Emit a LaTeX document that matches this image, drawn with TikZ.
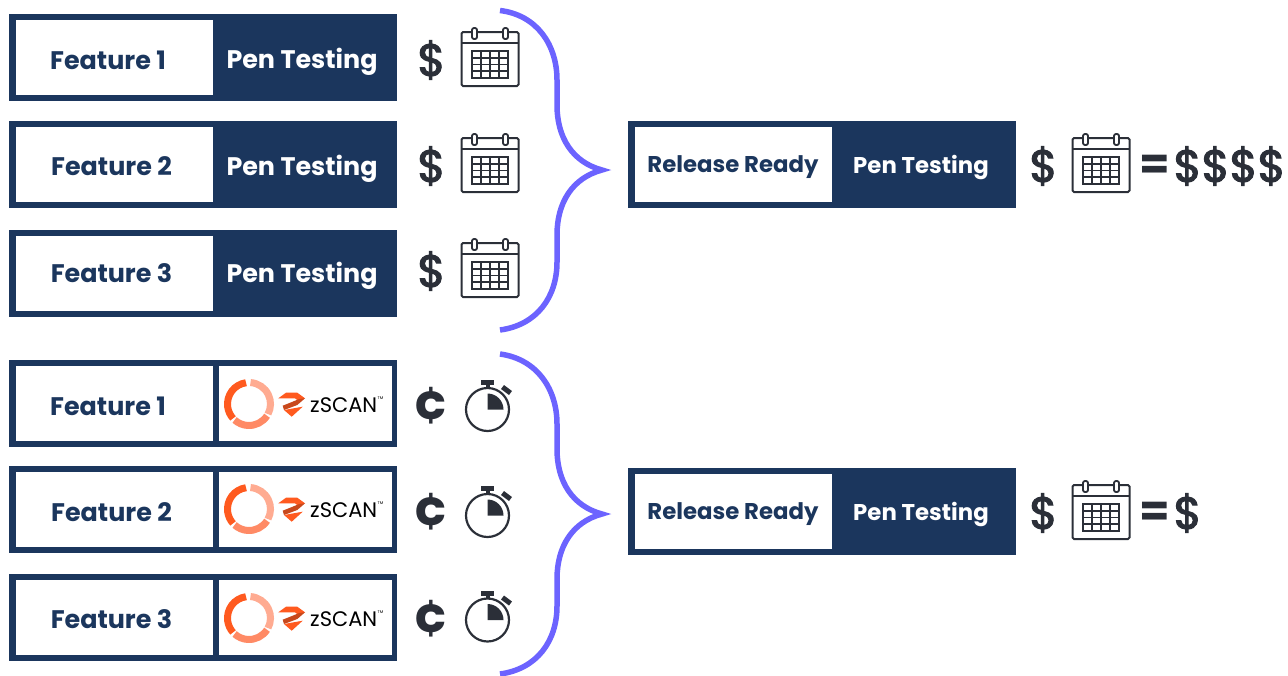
\documentclass[tikz,border=0pt]{standalone}
\usepackage{fontspec}
\setmainfont{Poppins}
\newfontfamily\moneyfont[FakeBold=2.4]{Poppins}
\definecolor{navy}{HTML}{1B365D}
\definecolor{ink}{HTML}{2B2F38}
\definecolor{brace}{HTML}{6C63FF}
\definecolor{orA}{HTML}{FF5A1F}
\definecolor{orB}{HTML}{FF8A65}
\definecolor{orC}{HTML}{FFAB91}
\definecolor{orD}{HTML}{C8481C}
\tikzset{
  x=1pt,y=-1pt,
  navybox/.style={fill=navy,draw=none,minimum width=388pt,minimum height=87pt,inner sep=0,anchor=north west},
  whitebox/.style={fill=white,draw=none,inner sep=0,anchor=north west},
  ftext/.style={text=navy,font=\fontsize{25.4}{25}\selectfont\bfseries,inner sep=0},
  ptext/.style={text=white,font=\fontsize{25.4}{25}\selectfont\bfseries,inner sep=0,yshift=-2.5pt},
  rtext/.style={text=navy,font=\fontsize{22.8}{23}\selectfont\bfseries,inner sep=0,yshift=-3pt},
  qtext/.style={text=white,font=\fontsize{22.8}{23}\selectfont\bfseries,inner sep=0,yshift=-3pt},
  money/.style={text=ink,font=\moneyfont\fontsize{45}{45}\selectfont,inner sep=0},
  cent/.style={text=ink,font=\fontsize{54}{54}\selectfont\bfseries,inner sep=0},
  equal/.style={text=ink,font=\fontsize{44}{44}\selectfont\bfseries,inner sep=0},
  bracepath/.style={draw=brace,line width=5.5pt,line cap=butt,miter limit=10},
  calendar/.pic={
    \draw[ink,line width=2pt,rounded corners=1.5pt] (-28.5,-27) rectangle (28.5,27);
    \draw[ink,line width=2pt] (-28.5,-16) -- (28.5,-16);
    \fill[white,draw=ink,line width=1.8pt,rounded corners=2pt] (-18,-31) rectangle (-13,-20);
    \fill[white,draw=ink,line width=1.8pt,rounded corners=2pt] (13,-31) rectangle (18,-20);
    \draw[ink,line width=2pt] (-18,-8) rectangle (18,19);
    \foreach \u in {-9,0,9} \draw[ink,line width=1.8pt] (\u,-8) -- (\u,19);
    \foreach \v in {-1.25,5.5,12.25} \draw[ink,line width=1.8pt] (-18,\v) -- (18,\v);
  },
  stopwatch/.pic={
    \draw[ink,line width=2.2pt] (0,0) circle (21.5);
    \fill[ink] (-6.5,-29.5) rectangle (6,-24.5);
    \fill[ink] (-2,-25) rectangle (2,-21);
    \draw[ink,line width=5pt] (15,-22.5) -- (23,-16.5);
    \fill[ink] (0,0) -- (0,-16) arc[start angle=270,end angle=360,radius=16] -- cycle;
  },
  zscan/.pic={
    \draw[orA,line width=7pt] (262:21.5) arc[start angle=262,end angle=138,radius=21.5];
    \draw[orC,line width=7pt] (-86:21.5) arc[start angle=-86,end angle=28,radius=21.5];
    \draw[orB,line width=7pt] (33:21.5) arc[start angle=33,end angle=132,radius=21.5];
    \fill[orA] (29.3,-5.7) -- (37,-11.3) -- (48.3,-11.3) -- (56,-5.7) -- (50.3,-2.3) -- (46,-5.7) -- cycle;
    \fill[orD] (33.7,1.7) -- (50.3,-5) -- (56,-5.7) -- (48.3,1) -- (35,6) -- cycle;
    \fill[orA] (35,6) -- (53.7,2.7) -- (42.7,12.7) -- cycle;
    \node[inner sep=0,anchor=west,text=black,font=\fontsize{21}{21}\selectfont] (zt) at (61,1) {zSCAN};
    \node[inner sep=0,anchor=west,text=black,font=\fontsize{4}{4}\selectfont] (tm) at (128.5,-6) {TM};
  }
}
\begin{document}
\begin{tikzpicture}
\useasboundingbox (0,0) rectangle (1288,675);
% pen testing rows: name / box top / label / label x / feature y / pen y / dollar y / calendar y
\foreach \n/\yy/\lab/\tx/\fy/\py/\dy/\cy in {a/14/Feature 1/108/60/59/60/59,b/121/Feature 2/111.5/166/166/166/165,c/230/Feature 3/111.5/273/273/271/270}{
  \node[navybox] (box\n) at (9,\yy) {};
  \node[whitebox,minimum width=197pt,minimum height=75pt] (in\n) at (15.5,\yy+6) {};
  \node[ftext] (f\n) at (\tx,\fy) {\lab};
  \node[ptext] (p\n) at (302,\py) {Pen Testing};
  \node[money] (d\n) at (431.5,\dy) {\$};
  \pic at (490,\cy) {calendar};
}
% zscan rows: name / box top / label / label x / feature y / logo y / cent y / watch y
\foreach \n/\yy/\lab/\tx/\fy/\ly/\dy/\wy in {d/360/Feature 1/108/406/404/406/409.5,e/466/Feature 2/111.5/512/509/512/515.5,f/574/Feature 3/111.5/619/618/619/620}{
  \node[navybox,minimum height=86.5pt] (box\n) at (9,\yy) {};
  \node[whitebox,minimum width=197pt,minimum height=74.5pt] (in\n) at (15.5,\yy+6) {};
  \node[whitebox,minimum width=173pt,minimum height=74.5pt] (lg\n) at (218.5,\yy+6) {};
  \node[ftext] (f\n) at (\tx,\fy) {\lab};
  \pic at (249,\ly) {zscan};
  \node[cent] (c\n) at (431.5,\dy) {¢};
  \pic at (487.5,\wy) {stopwatch};
}
% braces
\draw[bracepath] (500,10.5) .. controls (537,15) and (557,45) .. (557,80) -- (557,105) .. controls (557,137) and (572,162) .. (602,170) .. controls (572,178) and (557,203) .. (557,235) -- (557,262) .. controls (557,297) and (537,325) .. (500,330);
\draw[bracepath] (500,354) .. controls (537,359) and (557,389) .. (557,424) -- (557,449) .. controls (557,481) and (572,506) .. (602,514) .. controls (572,522) and (557,547) .. (557,579) -- (557,606) .. controls (557,641) and (537,669) .. (500,674);
% release boxes
\foreach \n/\yy/\ty/\dy/\cy in {r/121/164/166/165,s/468/511/513/512}{
  \node[navybox,minimum height=87pt] (box\n) at (628,\yy) {};
  \node[whitebox,minimum width=197pt,minimum height=75pt] (in\n) at (634.5,\yy+6) {};
  \node[rtext] (f\n) at (733,\ty) {Release Ready};
  \node[qtext] (p\n) at (921,\ty) {Pen Testing};
  \node[money] (d\n) at (1043.5,\dy) {\$};
  \pic at (1101,\cy) {calendar};
  \node[equal] (eq\n) at (1154.5,\dy+1) {=};
}
\node[money,anchor=west] (mr) at (1173.5,166) {\$\$\$\$};
\node[money,anchor=west] (ms) at (1173.5,513) {\$};
\end{tikzpicture}
\end{document}
